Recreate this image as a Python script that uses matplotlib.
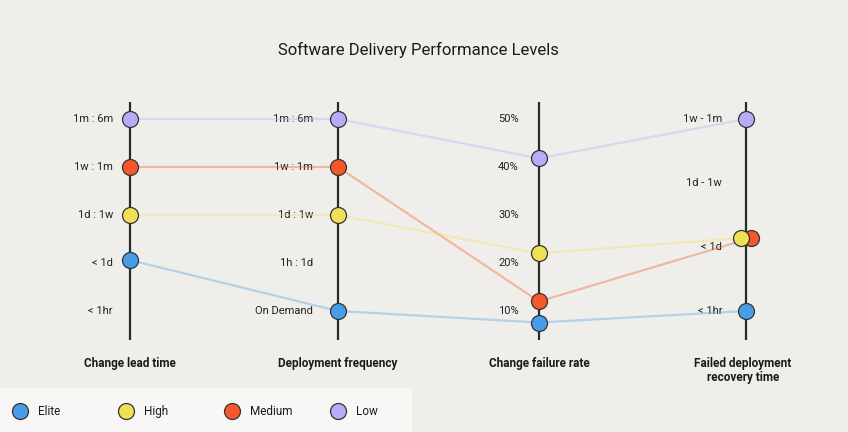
import matplotlib
matplotlib.use("Agg")
import matplotlib.pyplot as plt

plt.rcParams['font.family'] = ['Roboto', 'DejaVu Sans']

# ---------------- data ----------------
title = "Software Delivery Performance Levels"
axis_titles = ["Change lead time", "Deployment frequency", "Change failure rate",
               "Failed deployment\nrecovery time"]
lead_time_labels = ["< 1hr", "< 1d", "1d : 1w", "1w : 1m", "1m : 6m"]
deploy_freq_labels = ["On Demand", "1h : 1d", "1d : 1w", "1w : 1m", "1m : 6m"]
failure_rate_ticks = [10, 20, 30, 40, 50]
recovery_labels = ["< 1hr", "< 1d", "1d - 1w", "1w - 1m"]

levels = ["Elite", "High", "Medium", "Low"]
# category index on each ordinal axis, percentage on failure-rate axis
lead_time = [1.06, 2, 3, 4]
deploy_freq = [0, 2, 3, 4]
failure_rate = [7.6, 22, 12, 41.8]
recovery = [0, 1.14, 1.14, 3]

colors = {"Elite": "#479ee8", "High": "#f0e154", "Medium": "#f5582a", "Low": "#b8acf8"}
x_jitter = {"Elite": 0, "High": -5, "Medium": 5, "Low": 0}
dot_z = {"Elite": 3.4, "High": 3.5, "Medium": 3.2, "Low": 3.1}

BG = "#f0eeea"
LEG_BG = "#f8f7f5"
W, H = 848, 432

fig = plt.figure(figsize=(W / 100, H / 100), dpi=100, facecolor=BG)

# main axes: y=0 at bottom tick row (px 311), y=1 at top tick row (px 119)
top_px, bot_px = 119, 311
ax = fig.add_axes([0, (H - bot_px) / H, 1, (bot_px - top_px) / H])
ax.set_xlim(0, W)
ax.set_ylim(0, 1)
ax.axis("off")
ax.patch.set_alpha(0)

axis_x = [130, 338, 539, 746]

def norm_lead(v):
    return v / (len(lead_time_labels) - 1)

def norm_freq(v):
    return v / (len(deploy_freq_labels) - 1)

def norm_rate(v):
    return (v - failure_rate_ticks[0]) / (failure_rate_ticks[-1] - failure_rate_ticks[0])

def norm_rec(v):
    return v / (len(recovery_labels) - 1)

norms = [norm_lead, norm_freq, norm_rate, norm_rec]
series = [lead_time, deploy_freq, failure_rate, recovery]

def px_to_y(px):
    return (bot_px - px) / (bot_px - top_px)

# vertical axes
for x in axis_x:
    ax.plot([x, x], [px_to_y(340), px_to_y(102)], color="#2a2a2a", lw=1.6, zorder=2,
            solid_capstyle="butt", clip_on=False)

# tick labels
tick_sets = [
    (lead_time_labels, [norm_lead(i) for i in range(len(lead_time_labels))], 17),
    (deploy_freq_labels, [norm_freq(i) for i in range(len(deploy_freq_labels))], 25),
    ([f"{t}%" for t in failure_rate_ticks], [norm_rate(t) for t in failure_rate_ticks], 20),
    (recovery_labels, [norm_rec(i) for i in range(len(recovery_labels))], 24),
]
for x, (labs, ys, off) in zip(axis_x, tick_sets):
    for lab, y in zip(labs, ys):
        ax.text(x - off, y, lab, ha="right", va="center", fontsize=8,
                color="#222222", zorder=1)

# lines and dots
for idx in reversed(range(len(levels))):
    lvl = levels[idx]
    xs = [x + (x_jitter[lvl] if k == 3 else 0) for k, x in enumerate(axis_x)]
    ys = [norms[k](series[k][idx]) for k in range(4)]
    ax.plot(xs, ys, color=colors[lvl], alpha=0.36, lw=1.6, zorder=1, clip_on=False)
    ax.plot(xs, ys, linestyle="none", marker="o", markersize=11.5,
            markerfacecolor=colors[lvl], markeredgecolor="#333333",
            markeredgewidth=0.9, zorder=dot_z[lvl], clip_on=False)

# axis titles
for x, t in zip(axis_x, axis_titles):
    if "\n" in t:
        ax.text(x - 3, px_to_y(357), t, ha="center", va="top",
                fontsize=8.5, fontweight="bold", color="#1a1a1a", linespacing=1.15)
    else:
        ax.text(x, px_to_y(364), t, ha="center", va="center",
                fontsize=8.5, fontweight="bold", color="#1a1a1a")

fig.text(418 / W, 1 - 50 / H, title, ha="center", va="center", fontsize=12,
         color="#1a1a1a")

# legend panel
lax = fig.add_axes([0, 0, 412 / W, 44 / H])
lax.set_facecolor(LEG_BG)
for s in lax.spines.values():
    s.set_visible(False)
lax.set_xticks([])
lax.set_yticks([])
slot = 106
lax.set_xlim(0, 412 / slot)
lax.set_ylim(0, 1)
for i, lvl in enumerate(levels):
    lax.plot([i + 20 / slot], [0.47], marker="o", markersize=11.5,
             markerfacecolor=colors[lvl], markeredgecolor="#333333",
             markeredgewidth=0.9, linestyle="none")
    lax.text(i + 38 / slot, 0.47, lvl, ha="left", va="center", fontsize=8.5,
             color="#1a1a1a")

fig.savefig("out.png", dpi=100, facecolor=BG)
